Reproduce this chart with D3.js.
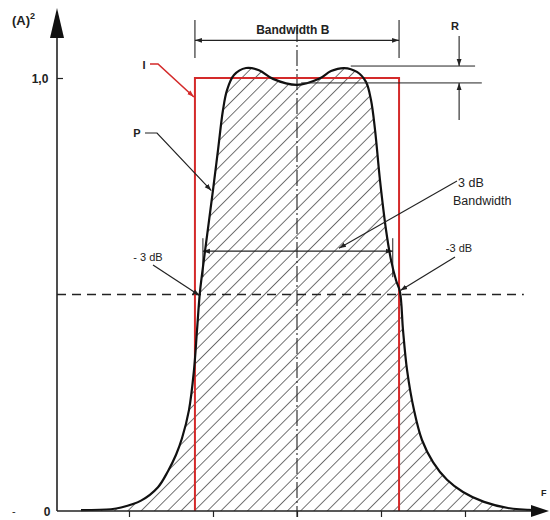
<!DOCTYPE html>
<html lang="en">
<head>
<meta charset="utf-8">
<title>bandpass response</title>
<script src="https://cdn.jsdelivr.net/npm/d3@7"></script>
<style>
  body { margin: 0; background: #fff; }
  svg text { font-family: "Liberation Sans", Arial, sans-serif; fill: #222; }
</style>
</head>
<body>
<svg id="canvas" width="550" height="520"></svg>
<script>
// response curve P, frequency in tick units, |A|^2
const freq = [-2.571, -2.214, -2.095, -1.857, -1.655, -1.536, -1.44, -1.369, -1.286, -1.226, -1.19, -1.155,
  -1.095, -1.0, -0.94, -0.881, -0.833, -0.75, -0.607, -0.452, -0.286, 0, 0.262, 0.405, 0.56, 0.714, 0.821,
  0.881, 0.929, 0.988, 1.06, 1.119, 1.179, 1.226, 1.262, 1.31, 1.393, 1.488, 1.619, 1.786, 1.976, 2.226, 2.512, 2.845]
const power = [0.002, 0.004, 0.008, 0.024, 0.055, 0.092, 0.13, 0.168, 0.233, 0.326, 0.418, 0.506,
  0.6, 0.741, 0.834, 0.926, 0.972, 1.007, 1.023, 1.018, 0.998, 0.984, 0.998, 1.016, 1.023, 1.014, 0.991,
  0.949, 0.88, 0.764, 0.649, 0.58, 0.533, 0.506, 0.418, 0.326, 0.233, 0.164, 0.113, 0.072, 0.044, 0.021, 0.007, 0.002]

const xTicks = [-2, -1, 0, 1, 2]
const idealEdges = [-1.215, 1.215]   // ideal filter I
const halfPower = 0.5                // -3 dB level
const bw3dbLevel = 0.6
const bw3dbEdges = [-1.12, 1.14]

let svg = d3.select('#canvas')

const x = d3.scaleLinear().domain([-2.857, 3.0]).range([57, 549])
const y = d3.scaleLinear().domain([0, 1]).range([511, 78])

const ink = '#222'
const red = '#d42a2a'

// markers + hatch
const defs = svg.append('defs')
defs.append('marker').attr('id', 'arr')
    .attr('viewBox', '0 0 10 10').attr('refX', 10).attr('refY', 5)
    .attr('markerWidth', 7).attr('markerHeight', 7).attr('markerUnits', 'userSpaceOnUse')
    .attr('orient', 'auto-start-reverse')
    .append('path').attr('d', 'M0,1.5L10,5L0,8.5Z').attr('fill', ink)
defs.append('marker').attr('id', 'arrRed')
    .attr('viewBox', '0 0 10 10').attr('refX', 10).attr('refY', 5)
    .attr('markerWidth', 7).attr('markerHeight', 7).attr('markerUnits', 'userSpaceOnUse')
    .attr('orient', 'auto')
    .append('path').attr('d', 'M0,1.5L10,5L0,8.5Z').attr('fill', red)
defs.append('pattern').attr('id', 'hatch')
    .attr('patternUnits', 'userSpaceOnUse').attr('width', 9.4).attr('height', 10)
    .attr('patternTransform', 'rotate(45)')
    .append('line').attr('x1', 0).attr('y1', 0).attr('x2', 0).attr('y2', 10)
    .attr('stroke', '#2a2a2a').attr('stroke-width', 1.3)

const pts = freq.map((f, i) => [f, power[i]])
const curve = d3.curveCatmullRom.alpha(0.5)

// hatched area under P
svg.append('path')
    .datum(pts)
    .attr('d', d3.area().x(d => x(d[0])).y0(y(0)).y1(d => Math.min(y(0), y(d[1]))).curve(curve))
    .attr('fill', 'url(#hatch)')

// centre dash-dot
svg.append('line')
    .attr('x1', x(0)).attr('x2', x(0)).attr('y1', y(1.12)).attr('y2', y(0) + 6)
    .attr('stroke', ink).attr('stroke-width', 1.1).attr('stroke-dasharray', '16,3,2,3')

// -3 dB dashed level
svg.append('line')
    .attr('x1', x.range()[0]).attr('x2', x(2.7)).attr('y1', y(halfPower)).attr('y2', y(halfPower))
    .attr('stroke', ink).attr('stroke-width', 1.3).attr('stroke-dasharray', '9,6')

// 3 dB bandwidth dimension
svg.append('line')
    .attr('x1', x(bw3dbEdges[0])).attr('x2', x(bw3dbEdges[1]))
    .attr('y1', y(bw3dbLevel)).attr('y2', y(bw3dbLevel))
    .attr('stroke', ink).attr('stroke-width', 1.2)
    .attr('marker-start', 'url(#arr)').attr('marker-end', 'url(#arr)')
svg.selectAll('.bwext').data(bw3dbEdges).join('line')
    .attr('x1', d => x(d)).attr('x2', d => x(d))
    .attr('y1', y(bw3dbLevel + 0.03)).attr('y2', y(bw3dbLevel - 0.06))
    .attr('stroke', ink).attr('stroke-width', 1)

// ideal filter I
svg.append('path')
    .attr('d', d3.line()([[x(idealEdges[0]), y(0)], [x(idealEdges[0]), y(1)], [x(idealEdges[1]), y(1)], [x(idealEdges[1]), y(0)]]))
    .attr('fill', 'none').attr('stroke', red).attr('stroke-width', 2)

// curve P
svg.append('path')
    .datum(pts)
    .attr('d', d3.line().x(d => x(d[0])).y(d => Math.min(y(0), y(d[1]))).curve(curve))
    .attr('fill', 'none').attr('stroke', '#111').attr('stroke-width', 2.2)

// axes
const xAxis = svg.append('g').attr('transform', `translate(0,${y(0)})`)
    .call(d3.axisBottom(x).tickValues(xTicks).tickSize(6).tickSizeOuter(0).tickFormat(''))
xAxis.select('.domain').remove()
xAxis.selectAll('line').attr('stroke', ink).attr('stroke-width', 1.2)
svg.append('line').attr('x1', x.range()[0]).attr('x2', 535).attr('y1', y(0)).attr('y2', y(0))
    .attr('stroke', ink).attr('stroke-width', 1.6)
svg.append('path').attr('d', `M549,${y(0)}L531,${y(0) - 6}L531,${y(0) + 6}Z`).attr('fill', '#111')

const yAxis = svg.append('g').attr('transform', `translate(${x.range()[0]},0)`)
    .call(d3.axisRight(y).tickValues([1]).tickSize(6).tickSizeOuter(0).tickFormat(''))
yAxis.select('.domain').remove()
yAxis.selectAll('line').attr('stroke', ink).attr('stroke-width', 1.2)
svg.append('line').attr('x1', x.range()[0]).attr('x2', x.range()[0]).attr('y1', y(0)).attr('y2', 30)
    .attr('stroke', ink).attr('stroke-width', 1.6)
svg.append('path').attr('d', `M${x.range()[0]},8L${x.range()[0] - 7},38L${x.range()[0] + 7},38Z`).attr('fill', '#111')

svg.append('text').attr('x', 40).attr('y', y(1) + 5).attr('text-anchor', 'middle')
    .attr('font-size', 12).attr('font-weight', 'bold').text('1,0')
svg.append('text').attr('x', 47).attr('y', y(0) + 5).attr('text-anchor', 'middle')
    .attr('font-size', 12).attr('font-weight', 'bold').text('0')
svg.append('text').attr('x', 12).attr('y', y(0) + 4).attr('font-size', 11).text('-')
const aLab = svg.append('text').attr('x', 12).attr('y', 25).attr('font-size', 13).attr('font-weight', 'bold')
aLab.append('tspan').text('(A)')
aLab.append('tspan').attr('dy', -6).attr('font-size', 9).text('2')
svg.append('text').attr('x', 541).attr('y', 496).attr('font-size', 9).attr('font-weight', 'bold').text('F')

// Bandwidth B dimension
svg.selectAll('.bext').data(idealEdges).join('line')
    .attr('x1', d => x(d)).attr('x2', d => x(d)).attr('y1', y(1.134)).attr('y2', y(1.046))
    .attr('stroke', ink).attr('stroke-width', 1.1)
svg.append('line')
    .attr('x1', x(idealEdges[0])).attr('x2', x(idealEdges[1])).attr('y1', y(1.087)).attr('y2', y(1.087))
    .attr('stroke', ink).attr('stroke-width', 1.1)
    .attr('marker-start', 'url(#arr)').attr('marker-end', 'url(#arr)')
svg.append('text').attr('x', x(-0.05)).attr('y', 34).attr('text-anchor', 'middle')
    .attr('font-size', 12).attr('font-weight', 'bold').text('Bandwidth B')

// ripple R
const peak = d3.max(power)
const dip = power[freq.indexOf(0)]
svg.append('line').attr('x1', x(0.64)).attr('x2', x(2.12)).attr('y1', y(peak) - 2).attr('y2', y(peak) - 2)
    .attr('stroke', ink).attr('stroke-width', 1)
svg.append('line').attr('x1', x(0.05)).attr('x2', x(2.2)).attr('y1', y(dip) - 2).attr('y2', y(dip) - 2)
    .attr('stroke', ink).attr('stroke-width', 1)
svg.append('line').attr('x1', x(1.93)).attr('x2', x(1.93)).attr('y1', 36).attr('y2', y(peak) - 2)
    .attr('stroke', ink).attr('stroke-width', 1.1).attr('marker-end', 'url(#arr)')
svg.append('line').attr('x1', x(1.93)).attr('x2', x(1.93)).attr('y1', 120).attr('y2', y(dip) - 2)
    .attr('stroke', ink).attr('stroke-width', 1.1).attr('marker-end', 'url(#arr)')
svg.append('text').attr('x', x(1.88)).attr('y', 30).attr('text-anchor', 'middle')
    .attr('font-size', 11).attr('font-weight', 'bold').text('R')

// labels with leaders
svg.append('text').attr('x', 144).attr('y', 69).attr('text-anchor', 'middle')
    .attr('font-size', 11).attr('font-weight', 'bold').text('I')
svg.append('path').attr('d', d3.line()([[150, 64], [158, 64], [x(idealEdges[0]) - 1, 97]]))
    .attr('fill', 'none').attr('stroke', red).attr('stroke-width', 1.6).attr('marker-end', 'url(#arrRed)')

svg.append('text').attr('x', 137).attr('y', 137).attr('text-anchor', 'middle')
    .attr('font-size', 11).attr('font-weight', 'bold').text('P')
svg.append('path').attr('d', d3.line()([[145, 133], [157, 133], [x(-1.02), y(0.74)]]))
    .attr('fill', 'none').attr('stroke', ink).attr('stroke-width', 1.2).attr('marker-end', 'url(#arr)')

svg.append('text').attr('x', 148).attr('y', 261).attr('text-anchor', 'middle')
    .attr('font-size', 11).text('- 3 dB')
svg.append('line').attr('x1', 153).attr('y1', 265).attr('x2', x(-1.16)).attr('y2', y(halfPower) + 1)
    .attr('stroke', ink).attr('stroke-width', 1.2).attr('marker-end', 'url(#arr)')

svg.append('text').attr('x', 459).attr('y', 252).attr('text-anchor', 'middle')
    .attr('font-size', 11).text('-3 dB')
svg.append('line').attr('x1', 455).attr('y1', 257).attr('x2', x(1.23)).attr('y2', y(halfPower) - 4)
    .attr('stroke', ink).attr('stroke-width', 1.2).attr('marker-end', 'url(#arr)')

svg.append('text').attr('x', 458).attr('y', 187).attr('font-size', 12.5).text('3 dB')
svg.append('text').attr('x', 453).attr('y', 205).attr('font-size', 12.5).text('Bandwidth')
svg.append('line').attr('x1', 457).attr('y1', 181).attr('x2', x(0.5)).attr('y2', y(bw3dbLevel) - 3)
    .attr('stroke', ink).attr('stroke-width', 1.1).attr('marker-end', 'url(#arr)')
</script>
</body>
</html>
